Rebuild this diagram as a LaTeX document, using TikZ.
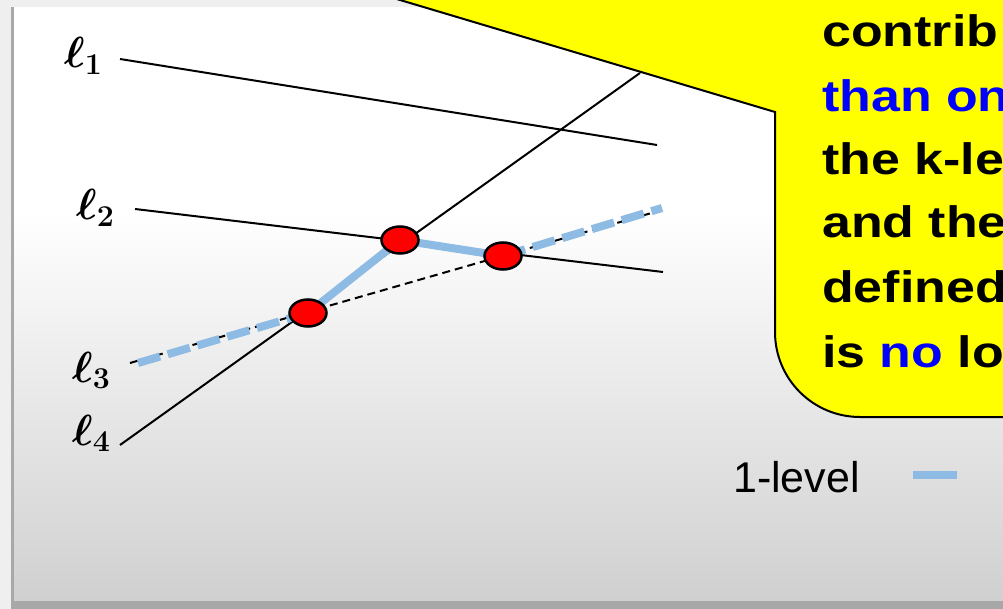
\documentclass[tikz,border=0pt]{standalone}
\usepackage{amsmath}
\usepackage{graphicx}
\usepackage{fontspec}
\usetikzlibrary{shapes.geometric}
\newfontfamily\calloutfont[FakeStretch=1.18]{Liberation Sans}
\newfontfamily\legendfont{Liberation Sans}
\definecolor{Slide}{HTML}{EFEFEF}
\definecolor{PanelLow}{HTML}{D0D0D0}
\definecolor{Rim}{HTML}{A8A8A8}
\definecolor{LevelBlue}{HTML}{8DBBE3}
\definecolor{NoteYellow}{HTML}{FFFF00}
\definecolor{KeyBlue}{HTML}{0000FF}
\newcommand{\linename}[1]{\scalebox{1.75}{$\boldsymbol{\ell}_{\boldsymbol{#1}}$}}
\tikzset{
 lineseg/.style={draw=black, line width=2pt},
 dashseg/.style={lineseg, dash pattern=on 8pt off 5pt},
 levelpath/.style={draw=LevelBlue, line width=8pt},
 leveldash/.style={levelpath, dash pattern=on 23pt off 8pt},
 crossdot/.style={ellipse, draw=black, line width=2.5pt, fill=red, minimum width=37pt, minimum height=27pt, inner sep=0pt},
 linelabel/.style={anchor=base west, inner sep=0pt, font=\fontsize{24}{24}\selectfont},
 notetext/.style={anchor=base west, inner sep=0pt, font=\calloutfont\bfseries\fontsize{44}{64}\selectfont}
}

\begin{document}
\begin{tikzpicture}[x=1pt,y=-1pt]
\useasboundingbox (0,0) rectangle (1003,609);
\clip (0,0) rectangle (1003,609);
% slide panel
\fill[Slide] (0,0) rectangle (1003,609);
\fill[Rim] (11,7) rectangle (1003,609);
\fill[white] (14,7) rectangle (1003,210);
\shade[top color=white, bottom color=PanelLow] (14,210) rectangle (1003,600);
% end points of the lines
\coordinate (l1a) at (120,59);  \coordinate (l1b) at (657,145);
\coordinate (l2a) at (135,209); \coordinate (l2b) at (663,272);
\coordinate (l3a) at (130,363); \coordinate (l3b) at (662,210);
\coordinate (l4a) at (120,445); \coordinate (l4b) at (640,73);
\coordinate (x34) at (308,313);
\coordinate (x24) at (400,240);
\coordinate (x23) at (503,256);
\coordinate (lvla) at (138,363); \coordinate (lvlb) at (662,208);
\draw[lineseg] (l1a) -- (l1b);
\draw[lineseg] (l2a) -- (l2b);
\draw[dashseg] (l3a) -- (l3b);
\draw[lineseg] (l4a) -- (l4b);
\draw[leveldash] (lvla) -- (x34);
\draw[levelpath, line join=round] (x34) -- (x24) -- (x23);
\draw[leveldash] (x23) -- (lvlb);
\node[crossdot] (d34) at (x34) {};
\node[crossdot] (d24) at (x24) {};
\node[crossdot] (d23) at (x23) {};
\node[linelabel] (lab1) at (64,68) {\linename{1}};
\node[linelabel] (lab2) at (76,220) {\linename{2}};
\node[linelabel] (lab3) at (72,382) {\linename{3}};
\node[linelabel] (lab4) at (72,445) {\linename{4}};
% callout
\draw[fill=NoteYellow, line width=2pt] (390,-3) -- (775,112) -- (775,332)
  .. controls (775,379) and (813,417) .. (860,417) -- (1010,417) -- (1010,-3) -- cycle;
\node[notetext] (n1) at (822,47) {contrib};
\node[notetext] (n2) at (822,112) {\textcolor{KeyBlue}{than on}};
\node[notetext] (n3) at (822,175) {the k-le};
\node[notetext] (n4) at (822,238) {and the};
\node[notetext] (n5) at (822,303) {defined};
\node[notetext] (n6) at (822,367) {is \textcolor{KeyBlue}{no} lo};
% legend
\node[anchor=base west, inner sep=0pt, font=\legendfont\fontsize{43}{43}\selectfont] (key) at (733,492) {1-level};
\coordinate (keya) at (913,475); \coordinate (keyb) at (957,475);
\draw[levelpath] (keya) -- (keyb);
\end{tikzpicture}
\end{document}
